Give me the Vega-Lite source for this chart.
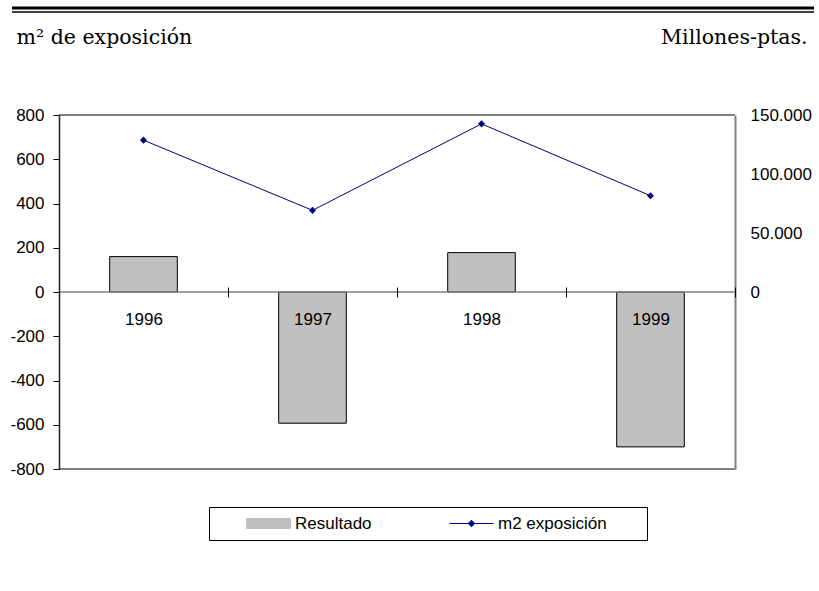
{
  "$schema": "https://vega.github.io/schema/vega-lite/v6.json",
  "autosize": "none",
  "width": 676,
  "height": 354,
  "padding": {"left": 59, "top": 115, "right": 84, "bottom": 122},
  "background": "white",
  "config": {
    "font": "Liberation Sans",
    "view": {"stroke": null},
    "axis": {"labelFont": "Liberation Sans", "labelFontSize": 17, "labelColor": "#000", "grid": false, "tickColor": "#000", "domainColor": "#000"},
    "legend": {
      "orient": "none", "legendX": 150, "legendY": 392, "direction": "horizontal", "columns": 2,
      "titleOrient": "right", "titlePadding": 32,
      "strokeColor": "#000", "padding": 8, "symbolSize": 1936, "clipHeight": 17,
      "labelFontSize": 17, "labelColor": "#000", "labelOffset": 4, "columnPadding": 48, "symbolOffset": 29,
      "symbolStrokeWidth": 1
    }
  },
  "data": {
    "values": [
      {"anio": "1996", "resultado": 160, "m2": 128700},
      {"anio": "1997", "resultado": -593, "m2": 69200},
      {"anio": "1998", "resultado": 178, "m2": 142500},
      {"anio": "1999", "resultado": -700, "m2": 81600}
    ]
  },
  "layer": [
    {
      "layer": [
        {
          "data": {"values": [{}]},
          "mark": {"type": "rule", "color": "#000", "strokeWidth": 3, "clip": false},
          "encoding": {"x": {"value": -47}, "x2": {"value": 755}, "y": {"value": -107}}
        },
        {
          "data": {"values": [{}]},
          "mark": {"type": "rule", "color": "#000", "strokeWidth": 1.5, "clip": false},
          "encoding": {"x": {"value": -47}, "x2": {"value": 755}, "y": {"value": -103}}
        },
        {
          "data": {"values": [{"borde": 800}, {"borde": -800}]},
          "mark": {"type": "rule", "color": "#808080", "strokeWidth": 2},
          "encoding": {"y": {"field": "borde", "type": "quantitative"}}
        },
        {
          "mark": {"type": "bar", "stroke": "#000", "strokeWidth": 1, "width": {"band": 0.4}},
          "encoding": {
            "x": {
              "field": "anio", "type": "nominal",
              "scale": {"paddingInner": 0, "paddingOuter": 0},
              "axis": {"orient": "bottom", "offset": -182, "tickBand": "extent", "tickSize": 10, "domain": false, "labelAngle": 0, "labelPadding": 14, "title": null, "zindex": 1}
            },
            "y": {
              "field": "resultado", "type": "quantitative",
              "scale": {"domain": [-800, 800], "nice": false, "zero": false},
              "axis": {
                "orient": "left", "values": [-800, -600, -400, -200, 0, 200, 400, 600, 800],
                "labelExpr": "'' + datum.value",
                "tickSize": 6, "domainWidth": 1.5, "domainColor": "#222", "labelPadding": 9, "labelFlush": false,
                "title": "m² de exposición", "titleAngle": 0, "titleX": -43, "titleY": -72,
                "titleAlign": "left", "titleBaseline": "alphabetic", "titleFont": "DejaVu Serif",
                "titleFontSize": 20.5, "titleFontWeight": "normal", "titleColor": "#000", "zindex": 1
              }
            },
            "color": {
              "datum": "Resultado",
              "scale": {"domain": ["Resultado", "m2 exposición"], "range": ["#C0C0C0", "#000080"]},
              "legend": {
                "title": " ",
                "symbolStrokeColor": {"expr": "datum.value === 'Resultado' ? '#000000' : '#000080'"},
                "encode": {
                  "symbols": {
                    "update": {
                      "shape": {"signal": "datum.value === 'Resultado' ? 'M-1,-0.227H1V0.227H-1Z' : 'M-1,0H1M0,-0.15L0.15,0L0,0.15L-0.15,0Z'"},
                      "fill": {"signal": "datum.value === 'Resultado' ? '#C0C0C0' : '#000080'"},
                      "stroke": {"signal": "datum.value === 'Resultado' ? '#000000' : '#000080'"},
                      "strokeWidth": {"value": 1},
                      "opacity": {"value": 1},
                      "fillOpacity": {"value": 1},
                      "strokeOpacity": {"value": 1}
                    }
                  }
                }
              }
            }
          }
        },
        {
          "data": {"values": [{}]},
          "mark": {"type": "rule", "color": "#808080", "strokeWidth": 1.5},
          "encoding": {"y": {"datum": 0}}
        }
      ]
    },
    {
      "mark": {"type": "line", "strokeWidth": 1, "point": {"shape": "diamond", "size": 50, "filled": true}},
      "encoding": {
        "x": {"field": "anio", "type": "nominal"},
        "y": {
          "field": "m2", "type": "quantitative",
          "scale": {"domain": [-150000, 150000], "nice": false, "zero": false},
          "axis": {
            "orient": "right", "values": [0, 50000, 100000, 150000], "tickSize": 0,
            "domain": true, "domainColor": "#808080", "domainWidth": 2,
            "labelPadding": 15, "labelFlush": false,
            "labelExpr": "replace(format(datum.value, ','), ',', '.')",
            "title": "Millones-ptas.", "titleAngle": 0, "titleX": 72, "titleY": -72,
            "titleAlign": "right", "titleBaseline": "alphabetic", "titleFont": "DejaVu Serif",
            "titleFontSize": 20.5, "titleFontWeight": "normal", "titleColor": "#000"
          }
        },
        "color": {
          "datum": "m2 exposición",
          "legend": {
            "title": " ",
            "symbolStrokeColor": {"expr": "datum.value === 'Resultado' ? '#000000' : '#000080'"},
            "encode": {
              "symbols": {
                "update": {
                  "shape": {"signal": "datum.value === 'Resultado' ? 'M-1,-0.227H1V0.227H-1Z' : 'M-1,0H1M0,-0.15L0.15,0L0,0.15L-0.15,0Z'"},
                  "fill": {"signal": "datum.value === 'Resultado' ? '#C0C0C0' : '#000080'"},
                  "stroke": {"signal": "datum.value === 'Resultado' ? '#000000' : '#000080'"},
                  "strokeWidth": {"value": 1},
                  "opacity": {"value": 1},
                  "fillOpacity": {"value": 1},
                  "strokeOpacity": {"value": 1}
                }
              }
            }
          }
        }
      }
    }
  ],
  "resolve": {"scale": {"y": "independent"}}
}
